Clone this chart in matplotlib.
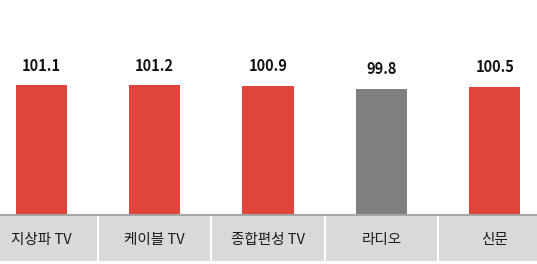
import matplotlib.pyplot as plt

plt.rcParams['font.family'] = ['Noto Sans CJK KR', 'DejaVu Sans']

categories = ['지상파 TV', '케이블 TV', '종합편성 TV', '라디오', '신문']
values = [101.1, 101.2, 100.9, 99.8, 100.5]
colors = ['#e0443b', '#e0443b', '#e0443b', '#7f7f7f', '#e0443b']

W, H = 537, 264
fig = plt.figure(figsize=(W / 100, H / 100), dpi=100)

# main bar area: spans a bit past the figure edges, like the original
left = -15.5 / W
width = 567 / W
ax = fig.add_axes([left, (H - 215) / H, width, 215 / H])
x = list(range(len(categories)))
ax.bar(x, values, width=0.45, color=colors)
ax.set_xlim(-0.5, len(categories) - 0.5)
ax.set_ylim(50, 50 + 215 / 2.54)
for xi, v in zip(x, values):
    ax.annotate(f'{v:.1f}', (xi, v), xytext=(0, 14), textcoords='offset points',
                ha='center', va='center', fontsize=10.5, fontweight='bold',
                color='#111111')
ax.axis('off')
ax.axhline(50, color='#a6a6a6', lw=1.5, clip_on=False)

# category boxes under the bars
ax2 = fig.add_axes([left, (H - 261) / H, width, 45 / H])
ax2.bar(x, [1] * len(x), width=0.982, color='#d9d9d9')
ax2.set_xlim(-0.5, len(categories) - 0.5)
ax2.set_ylim(0, 1)
for xi, c in zip(x, categories):
    ax2.text(xi, 0.46, c, ha='center', va='center', fontsize=10.5,
             fontweight='medium', color='#1a1a1a')
ax2.axis('off')

fig.savefig('out.png', dpi=100)
